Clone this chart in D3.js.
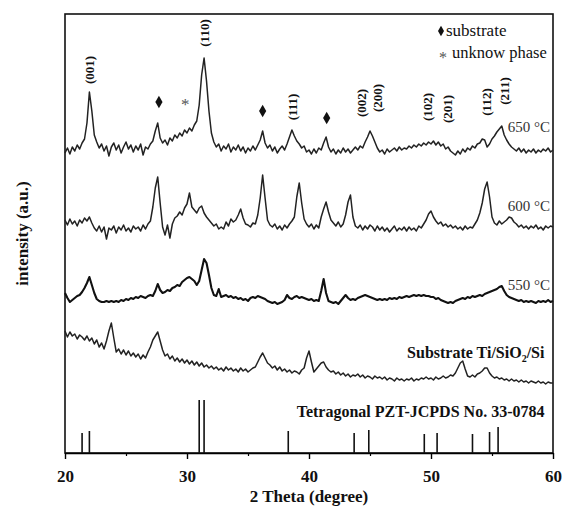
<!DOCTYPE html>
<html>
<head>
<meta charset="utf-8">
<script src="https://cdn.jsdelivr.net/npm/d3@7"></script>
<style>
  body { margin: 0; background: #fff; }
  svg text { font-family: "Liberation Serif", "Times New Roman", serif; fill: #111; }
</style>
</head>
<body>
<div id="chart"></div>
<script>
/* DATA (intensity in a.u., 0.2 deg steps from 20 to 60) */
var twoTheta = d3.range(201).map((i) => +(20 + i * 0.2).toFixed(1));

var i650 = [
  300, 305, 299, 306, 302, 308, 304, 310, 314, 330,
  361, 342, 318, 311, 305, 309, 302, 307, 297, 306,
  310, 303, 308, 300, 306, 311, 304, 308, 301, 307,
  303, 309, 298, 306, 304, 309, 312, 322, 330, 315,
  310, 313, 308, 315, 312, 318, 315, 320, 317, 323,
  320, 325, 322, 328, 332, 348, 378, 395, 372, 342,
  320, 311, 306, 309, 302, 307, 304, 309, 301, 306,
  303, 308, 302, 306, 300, 305, 302, 307, 303, 308,
  313, 322, 310, 305, 308, 302, 306, 300, 304, 307,
  303, 309, 316, 323, 317, 312, 309, 305, 307, 301,
  303, 299, 304, 300, 305, 303, 310, 316, 306, 301,
  304, 299, 303, 300, 305, 301, 304, 300, 303, 306,
  303, 307, 305, 311, 316, 322, 317, 311, 305, 301,
  303, 299, 304, 301, 303, 305, 302, 306, 303, 305,
  304, 307, 305, 308, 306, 309, 307, 310, 308, 311,
  309, 312, 308, 311, 307, 309, 304, 306, 302, 300,
  298, 302, 299, 304, 301, 305, 303, 307, 305, 309,
  310, 314, 313, 306, 309, 314, 317, 321, 324, 327,
  318, 313, 309, 306, 304, 302, 305, 301, 304, 300,
  303, 301, 304, 300, 303, 301, 304, 302, 305, 301, 303
];

var i600 = [
  233, 228, 234, 229, 232, 227, 233, 230, 235, 232,
  236, 230, 225, 222, 227, 221, 226, 214, 225, 223,
  227, 220, 226, 223, 228, 222, 225, 221, 227, 224,
  226, 222, 228, 224, 229, 232, 246, 265, 276, 250,
  226, 218, 228, 215, 229, 235, 237, 241, 238, 245,
  249, 260, 246, 243, 240, 245, 247, 240, 236, 233,
  230, 227, 229, 224, 226, 224, 231, 227, 234, 231,
  233, 238, 244, 235, 229, 228, 226, 230, 229, 238,
  255, 278, 255, 233, 228, 226, 229, 224, 227, 223,
  228, 225, 229, 232, 236, 256, 270, 250, 234, 229,
  226, 229, 224, 228, 225, 236, 244, 251, 241, 233,
  230, 227, 231, 226, 229, 238, 251, 258, 236, 227,
  225, 228, 223, 227, 224, 228, 226, 222, 227, 223,
  226, 222, 225, 221, 224, 227, 222, 225, 223, 226,
  222, 226, 223, 225, 222, 227, 225, 229, 233, 239,
  242, 236, 232, 229, 231, 227, 229, 226, 228, 225,
  227, 224, 226, 223, 227, 224, 226, 225, 229, 233,
  240, 250, 264, 271, 256, 236, 230, 228, 232, 229,
  231, 233, 236, 235, 231, 229, 226, 228, 225, 227,
  224, 227, 225, 228, 224, 226, 223, 227, 225, 227, 226
];

var i550 = [
  160, 155, 151, 153, 155, 157, 158, 161, 165, 170,
  176, 168, 160, 154, 152, 151, 151, 152, 151, 152,
  151, 152, 151, 153, 152, 154, 153, 155, 154, 156,
  155, 157, 156, 155, 157, 158, 157, 162, 169, 163,
  160, 161, 163, 162, 165, 166, 168, 167, 171, 173,
  175, 176, 174, 172, 168, 172, 183, 194, 190, 178,
  165, 158, 157, 164, 156, 157, 158, 156, 157, 155,
  156, 154, 155, 153, 154, 152, 155, 156, 155, 157,
  156, 155, 154, 152, 151, 150, 151, 149, 150, 151,
  153, 158, 155, 154, 156, 157, 155, 156, 155, 154,
  153, 154, 152, 153, 152, 162, 174, 160, 152, 151,
  150, 151, 149, 152, 155, 158, 155, 153, 154, 153,
  155, 156, 157, 158, 157, 156, 155, 154, 153, 154,
  153, 154, 153, 155, 154, 155, 154, 156, 155, 156,
  157, 156, 157, 158, 157, 158, 157, 158, 157, 157,
  156, 156, 154, 155, 153, 152, 151, 150, 151, 150,
  152, 153, 154, 155, 154, 156, 155, 157, 156, 157,
  158, 157, 159, 160, 161, 162, 163, 164, 166, 167,
  162, 158, 156, 155, 154, 153, 152, 153, 151, 152,
  151, 152, 151, 150, 152, 151, 152, 151, 153, 151, 152
];

var iSub = [
  122, 116, 121, 117, 119, 114, 118, 116, 113, 117,
  112, 115, 109, 113, 106, 110, 104, 112, 122, 130,
  115, 101, 104, 99, 103, 98, 102, 97, 100, 96,
  99, 94, 98, 95, 101, 106, 113, 117, 121, 112,
  103, 97, 99, 94, 97, 92, 95, 91, 94, 90,
  93, 89, 92, 88, 91, 87, 90, 86, 88, 85,
  87, 84, 86, 83, 85, 82, 86, 83, 85, 82,
  84, 81, 85, 82, 84, 81, 83, 85, 86, 91,
  96, 100, 95, 90, 88, 85, 87, 83, 86, 82,
  84, 81, 83, 80, 82, 81, 79, 83, 85, 95,
  102, 91, 81, 84, 87, 90, 91, 86, 83, 81,
  82, 79, 81, 78, 80, 77, 79, 76, 78, 77,
  79, 76, 78, 75, 77, 76, 74, 77, 75, 76,
  74, 76, 73, 75, 74, 72, 75, 73, 74, 72,
  74, 73, 75, 72, 74, 73, 75, 74, 76, 74,
  75, 73, 76, 74, 75, 77, 75, 76, 78, 77,
  80, 85, 90, 92, 84, 77, 76, 78, 76, 79,
  80, 82, 85, 85, 80, 77, 75, 76, 74, 75,
  73, 74, 72, 74, 72, 73, 71, 73, 71, 72,
  70, 72, 71, 70, 72, 70, 71, 69, 71, 70, 70
];

// JCPDS 33-0784 reference lines
var refPos = [21.4, 22.0, 31.0, 31.4, 38.3, 43.7, 44.9, 49.45, 50.5, 53.4, 54.8, 55.5];
var refInt = [20, 22, 53, 53, 22, 20, 23, 19, 20, 19, 21, 26];

// hkl labels: text, 2theta, height
var hklText = ["(001)", "(110)", "(111)", "(002)", "(200)", "(102)", "(201)", "(112)", "(211)"];
var hklPos = [22.05, 31.5, 38.7, 44.35, 45.65, 49.75, 51.4, 54.6, 56.1];
var hklInt = [383, 420, 346, 350, 355, 346, 344, 351, 362];

// substrate / unknown phase markers
var subMarkPos = [27.7, 36.2, 41.45];
var subMarkInt = [351, 342, 335];
var unkMarkPos = [29.85];
var unkMarkInt = [351];

var xTicks = [20, 30, 40, 50, 60];
var xMinor = [25, 35, 45, 55];

/* SETUP */
var width = 565,
  height = 510;
var margin = { top: 14, right: 12, bottom: 57, left: 65 };

var svg = d3
  .select("#chart")
  .append("svg")
  .attr("width", width)
  .attr("height", height);

var x = d3.scaleLinear().domain([20, 60]).range([margin.left, width - margin.right]);
var y = d3.scaleLinear().domain([0, 439]).range([height - margin.bottom, margin.top]);

/* FRAME + AXIS */
svg
  .append("rect")
  .attr("x", x(20))
  .attr("y", y(439))
  .attr("width", x(60) - x(20))
  .attr("height", y(0) - y(439))
  .attr("fill", "none")
  .attr("stroke", "#111")
  .attr("stroke-width", 1.6);

var xAxis = svg
  .append("g")
  .attr("transform", `translate(0, ${y(0)})`)
  .call(d3.axisBottom(x).tickValues(xTicks).tickSize(6).tickSizeOuter(0).tickFormat(d3.format("d")));
xAxis.select(".domain").attr("stroke-width", 1.6);
xAxis.selectAll(".tick line").attr("stroke-width", 1.4);
xAxis
  .selectAll(".tick text")
  .attr("dy", "1.15em")
  .style("font-size", "17px")
  .style("font-weight", "bold");

svg
  .append("g")
  .attr("transform", `translate(0, ${y(0)})`)
  .call(d3.axisBottom(x).tickValues(xMinor).tickSize(3).tickFormat(""))
  .call((g) => g.select(".domain").remove())
  .selectAll(".tick line")
  .attr("stroke-width", 1.2);

svg
  .append("text")
  .attr("x", x(40))
  .attr("y", 502)
  .attr("text-anchor", "middle")
  .style("font-size", "17px")
  .style("font-weight", "bold")
  .text("2 Theta (degree)");

svg
  .append("text")
  .attr("transform", `translate(28, ${(y(0) + y(439)) / 2}) rotate(-90)`)
  .attr("text-anchor", "middle")
  .style("font-size", "17px")
  .style("font-weight", "bold")
  .text("intensity (a.u.)");

/* CURVES */
var line = d3
  .line()
  .x((d, i) => x(twoTheta[i]))
  .y((d) => y(d));

var curves = [
  { name: "650 °C", vals: i650, sw: 1.5, col: "#222", labelAt: 321 },
  { name: "600 °C", vals: i600, sw: 1.5, col: "#222", labelAt: 242 },
  { name: "550 °C", vals: i550, sw: 2.1, col: "#111", labelAt: 163 },
  { name: "sub", vals: iSub, sw: 1.5, col: "#222", labelAt: 95 },
];

svg
  .append("g")
  .selectAll("path")
  .data(curves)
  .join("path")
  .attr("d", (c) => line(c.vals))
  .attr("fill", "none")
  .attr("stroke", (c) => c.col)
  .attr("stroke-width", (c) => c.sw)
  .attr("stroke-linejoin", "round");

svg
  .append("g")
  .selectAll("text")
  .data(curves.filter((c) => c.name != "sub"))
  .join("text")
  .attr("x", x(59.75))
  .attr("y", (c) => y(c.labelAt))
  .attr("text-anchor", "end")
  .style("font-size", "15px")
  .style("fill", "#333")
  .text((c) => c.name);

var subLabel = svg
  .append("text")
  .attr("x", x(59.3))
  .attr("y", y(95))
  .attr("text-anchor", "end")
  .style("font-size", "16px")
  .style("font-weight", "bold");
subLabel.append("tspan").text("Substrate Ti/SiO");
subLabel.append("tspan").attr("dy", 4).style("font-size", "10px").text("2");
subLabel.append("tspan").attr("dy", -4).text("/Si");

/* JCPDS STICKS */
svg
  .append("g")
  .selectAll("line")
  .data(refPos)
  .join("line")
  .attr("x1", (d) => x(d))
  .attr("x2", (d) => x(d))
  .attr("y1", y(0))
  .attr("y2", (d, i) => y(refInt[i]))
  .attr("stroke", "#111")
  .attr("stroke-width", 1.6);

svg
  .append("text")
  .attr("x", x(59.3))
  .attr("y", y(36))
  .attr("text-anchor", "end")
  .style("font-size", "16px")
  .style("font-weight", "bold")
  .text("Tetragonal PZT-JCPDS No. 33-0784");

/* HKL LABELS */
svg
  .append("g")
  .selectAll("text")
  .data(hklText)
  .join("text")
  .attr("transform", (d, i) => `translate(${x(hklPos[i]) + 4}, ${y(hklInt[i])}) rotate(-90)`)
  .attr("text-anchor", "middle")
  .style("font-size", "13px")
  .style("font-weight", "bold")
  .text((d) => d);

/* MARKERS */
var diamond = d3.symbol().type(d3.symbolDiamond).size(45);
svg
  .append("g")
  .selectAll("path")
  .data(subMarkPos)
  .join("path")
  .attr("transform", (d, i) => `translate(${x(d)}, ${y(subMarkInt[i])})`)
  .attr("d", diamond)
  .attr("fill", "#111");

svg
  .append("g")
  .selectAll("text")
  .data(unkMarkPos)
  .join("text")
  .attr("x", (d) => x(d))
  .attr("y", (d, i) => y(unkMarkInt[i]) + 8)
  .attr("text-anchor", "middle")
  .style("font-size", "17px")
  .style("fill", "#555")
  .text("*");

/* LEGEND */
var legend = svg.append("g").attr("class", "legend");
legend
  .append("path")
  .attr("transform", `translate(441, 31)`)
  .attr("d", d3.symbol().type(d3.symbolDiamond).size(32))
  .attr("fill", "#111");
legend
  .append("text")
  .attr("x", 446)
  .attr("y", 36)
  .style("font-size", "17px")
  .text("substrate");
legend
  .append("text")
  .attr("x", 443)
  .attr("y", 63)
  .attr("text-anchor", "middle")
  .style("font-size", "16px")
  .style("fill", "#555")
  .text("*");
legend
  .append("text")
  .attr("x", 452)
  .attr("y", 58)
  .style("font-size", "16.5px")
  .text("unknow phase");
</script>
</body>
</html>
